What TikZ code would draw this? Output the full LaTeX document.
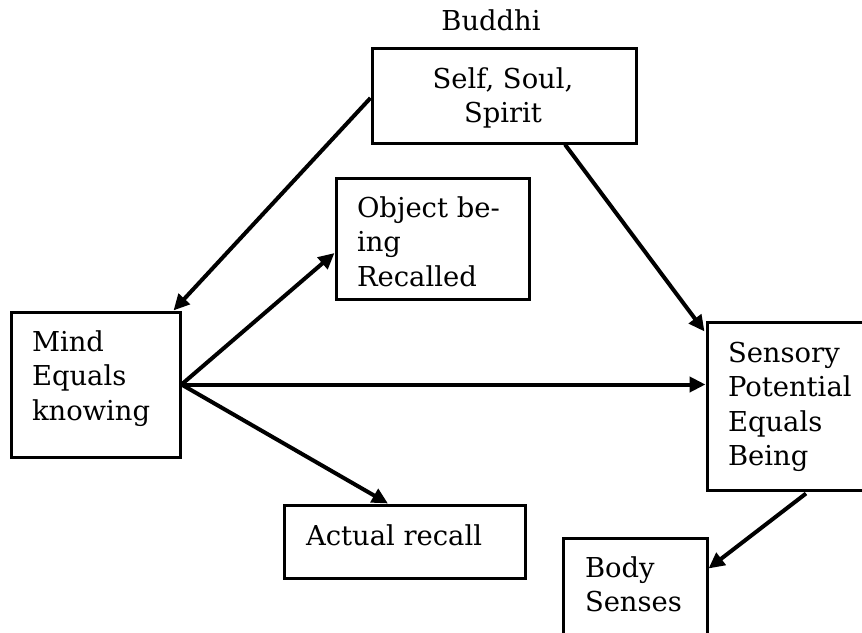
\documentclass[tikz,border=0pt]{standalone}
\usepackage{fontspec}
\setmainfont{DejaVu Serif}
\usetikzlibrary{arrows.meta}

% stacked lines whose baseline is the baseline of the first line
\newcommand{\leftlines}[1]{\vtop{\halign{##\hfil\cr#1\crcr}}}
\newcommand{\centerlines}[1]{\vtop{\halign{\hfil##\hfil\cr#1\crcr}}}

\tikzset{
  box/.style={draw=black, line width=3pt, rectangle, inner sep=0pt, fill=none},
  txt/.style={inner sep=0pt, outer sep=0pt, text=black},
  link/.style={line width=4pt, draw=black,
    -{Triangle[length=16pt, width=15pt]}},
}

\begin{document}
\begin{tikzpicture}[x=1pt, y=-1pt,
  font=\fontsize{27.4pt}{34.5pt}\selectfont]
  \useasboundingbox[fill=white] (0,0) rectangle (862,632);

  % boxes
  \node[box, minimum width=264pt, minimum height=95pt]  (self)    at (504,95.5)   {};
  \node[box, minimum width=193pt, minimum height=121pt] (object)  at (432.5,238.5) {};
  \node[box, minimum width=169pt, minimum height=145pt] (mind)    at (95.5,384.5) {};
  \node[box, minimum width=159pt, minimum height=168pt] (sensory) at (786.5,406)  {};
  \node[box, minimum width=241pt, minimum height=73pt]  (actual)  at (404.5,541.5) {};
  \node[box, minimum width=144pt, minimum height=102pt] (body)    at (635,589)    {};

  % labels
  \node[txt, anchor=base] (buddhi) at (491,30) {Buddhi};
  \node[txt, anchor=base] (selftext) at (503,88) {\centerlines{Self, Soul,\cr Spirit}};
  \node[txt, anchor=base west] (objecttext) at (357,217) {\leftlines{Object be-\cr ing\cr Recalled}};
  \node[txt, anchor=base west] (mindtext) at (32,351) {\leftlines{Mind\cr Equals\cr knowing}};
  \node[txt, anchor=base west] (sensorytext) at (728,362) {\leftlines{Sensory\cr Potential\cr Equals\cr Being}};
  \node[txt, anchor=base west] (actualtext) at (306,545) {Actual recall};
  \node[txt, anchor=base west] (bodytext) at (585,577) {\leftlines{Body\cr Senses}};

  % connectors
  \draw[link] ([yshift=-2.5pt]self.west) -- ([xshift=-8pt]mind.north east);
  \draw[link] (mind.east) -- ([yshift=-14.5pt]object.west);
  \draw[link] (mind.east) -- (mind.east -| sensory.west);
  \draw[link] (mind.east) -- ([xshift=-16.5pt]actual.north);
  \draw[link] ([xshift=61pt]self.south) -- ([xshift=-1pt, yshift=-11pt]sensory.north west);
  \draw[link] ([xshift=19.5pt, yshift=-2pt]sensory.south) -- ([yshift=-32pt]body.north east);
\end{tikzpicture}
\end{document}
